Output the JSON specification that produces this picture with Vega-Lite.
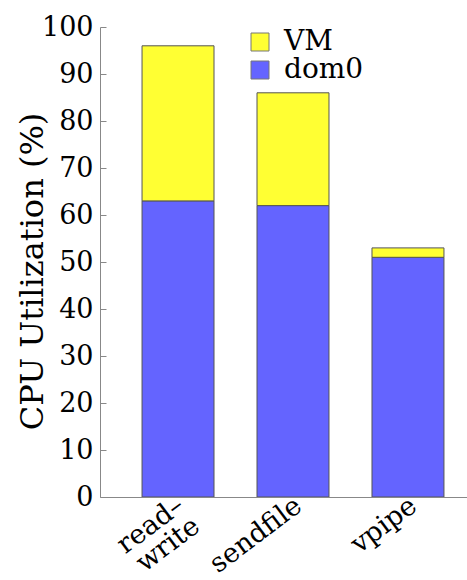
{
  "$schema": "https://vega.github.io/schema/vega-lite/v6.json",
  "width": 367,
  "height": 470,
  "autosize": {"type": "none"},
  "padding": {"left": 100, "top": 27, "right": 0, "bottom": 83},
  "background": "white",
  "config": {
    "view": {"stroke": null},
    "font": "DejaVu Serif",
    "axis": {"grid": false, "domainColor": "#888888", "tickColor": "#888888", "labelColor": "black", "titleColor": "black", "labelFont": "DejaVu Serif", "titleFont": "DejaVu Serif", "titleFontWeight": "normal"},
    "legend": {"labelFont": "DejaVu Serif"}
  },
  "data": {
    "values": [
      {"method": "read–write", "series": "dom0", "value": 63},
      {"method": "read–write", "series": "VM", "value": 33},
      {"method": "sendfile", "series": "dom0", "value": 62},
      {"method": "sendfile", "series": "VM", "value": 24},
      {"method": "vpipe", "series": "dom0", "value": 51},
      {"method": "vpipe", "series": "VM", "value": 2}
    ]
  },
  "mark": {"type": "bar", "stroke": "#555555", "strokeWidth": 1},
  "encoding": {
    "x": {
      "field": "method",
      "type": "nominal",
      "sort": null,
      "scale": {"paddingInner": 0.374, "paddingOuter": 0.283, "align": 0.646},
      "axis": {
        "title": null,
        "ticks": false,
        "zindex": 1,
        "labelAngle": -37,
        "labelAlign": "right",
        "labelBaseline": {"condition": {"test": "datum.label == 'read–write'", "value": "middle"}, "value": "top"},
        "labelFontSize": 27,
        "labelPadding": {"condition": {"test": "datum.label == 'read–write'", "value": 5}, "value": -5},
        "labelOffset": {"condition": {"test": "datum.label == 'read–write'", "value": 3}, "value": -2},
        "labelLineHeight": 26,
        "labelExpr": "datum.label == 'read–write' ? ['read–', 'write'] : datum.label"
      }
    },
    "y": {
      "field": "value",
      "type": "quantitative",
      "stack": "zero",
      "scale": {"domain": [0, 100], "nice": false},
      "axis": {
        "title": "CPU Utilization (%)",
        "values": [0, 10, 20, 30, 40, 50, 60, 70, 80, 90, 100],
        "tickSize": -6,
        "labelPadding": 13,
        "labelFontSize": 27,
        "titleFontSize": 32,
        "titleAngle": -90,
        "titleAlign": "center",
        "titleBaseline": "middle",
        "titleX": -68,
        "titleY": 244
      }
    },
    "color": {
      "field": "series",
      "type": "nominal",
      "scale": {"domain": ["VM", "dom0"], "range": ["#ffff33", "#6464ff"]},
      "legend": {
        "title": null,
        "orient": "none",
        "legendX": 146,
        "legendY": 1,
        "symbolType": "square",
        "symbolSize": 324,
        "symbolStrokeColor": "#777777",
        "symbolStrokeWidth": 1,
        "labelFontSize": 28,
        "labelColor": "black",
        "labelOffset": 10,
        "rowPadding": 0
      }
    },
    "order": {"field": "series", "sort": "descending"}
  }
}
